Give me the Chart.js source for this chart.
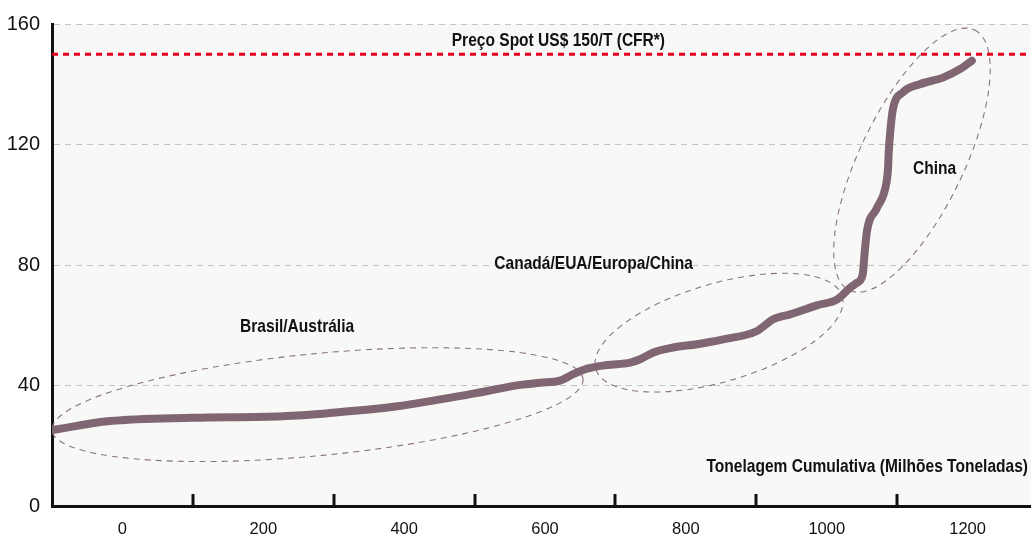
<!DOCTYPE html>
<html>
<head>
<meta charset="utf-8">
<script src="https://cdn.jsdelivr.net/npm/chart.js@4"></script>
<style>
  html, body { margin: 0; padding: 0; background: #fff; }
  #wrap { width: 1031px; height: 537px; position: relative; }
</style>
</head>
<body>
<div id="wrap"><canvas id="canvas"></canvas></div>
<script>
// cost curve: cumulative tonnage (Mt) against cash cost (US$/t)
let tonnage = [-100, -18, 100, 228, 295, 390, 498, 565, 593, 621, 640, 660, 688, 721, 735, 753,
               782, 816, 853, 901, 924, 948, 986, 1015, 1033, 1043, 1051, 1054, 1057, 1071,
               1083, 1087, 1088, 1091, 1094, 1108, 1132, 1165, 1189, 1206];
let cost = [25.2, 28.2, 29.3, 29.8, 30.9, 33.1, 37.3, 40.2, 40.9, 41.6, 43.8, 45.6, 46.8, 47.6, 48.7, 50.9,
            52.6, 53.7, 55.3, 58.1, 62.0, 63.6, 66.6, 68.6, 72.4, 74.1, 76.8, 84.5, 91.1, 98.8,
            105.4, 112.0, 117.5, 126.3, 131.8, 137.3, 140.0, 142.2, 145.0, 147.8];

let spotPrice = 150;
let spotLabel = 'Preço Spot US$ 150/T (CFR*)';
let xTitle = 'Tonelagem Cumulativa (Milhões Toneladas)';

let xLabels = [0, 200, 400, 600, 800, 1000, 1200];
let xMarks = [100, 300, 500, 700, 900, 1100];
let yLabels = [0, 40, 80, 120, 160];

let regions = ['Brasil/Austrália', 'Canadá/EUA/Europa/China', 'China'];

const FONT = "'Liberation Sans', Arial, sans-serif";
const SQUEEZE = 0.84; // condensed look for the bold captions

// ellipse ends in data units, half width in px; label anchor in data units
const regionShapes = [
  { from: [-100, 25.1], to: [654, 42.2], half: 51, label: [248, 59.4] },
  { from: [672, 45.5], to: [1022, 69.6], half: 49, label: [669, 80.5] },
  { from: [1032, 71.6], to: [1210, 158], half: 52, label: [1153, 111.9] }
];

function caption(ctx, text, px, py, align) {
  ctx.save();
  ctx.translate(px, py);
  ctx.scale(SQUEEZE, 1);
  ctx.textAlign = align;
  ctx.fillText(text, 0, 0);
  ctx.restore();
}

const decor = {
  id: 'decor',
  beforeDraw(chart) {
    const { ctx, chartArea: a } = chart;
    ctx.save();
    ctx.fillStyle = '#f8f8f6';
    ctx.fillRect(a.left, a.top, a.right - a.left, a.bottom - a.top);
    ctx.restore();
  },
  beforeDatasetsDraw(chart) {
    const { ctx, chartArea: a, scales: { x, y } } = chart;
    ctx.save();
    ctx.beginPath();
    ctx.rect(a.left, a.top, a.right - a.left, a.bottom - a.top);
    ctx.clip();
    ctx.strokeStyle = '#8a7380';
    ctx.lineWidth = 1.1;
    ctx.setLineDash([6, 5]);
    regionShapes.forEach(r => {
      const x1 = x.getPixelForValue(r.from[0]), y1 = y.getPixelForValue(r.from[1]);
      const x2 = x.getPixelForValue(r.to[0]), y2 = y.getPixelForValue(r.to[1]);
      const len = Math.hypot(x2 - x1, y2 - y1) / 2;
      ctx.beginPath();
      ctx.ellipse((x1 + x2) / 2, (y1 + y2) / 2, len, r.half, Math.atan2(y2 - y1, x2 - x1), 0, Math.PI * 2);
      ctx.stroke();
    });
    ctx.restore();
  },
  afterDraw(chart) {
    const { ctx, chartArea: a, scales: { x, y } } = chart;
    ctx.save();
    // short tick marks pointing up from the x axis
    ctx.strokeStyle = '#111';
    ctx.lineWidth = 3;
    xMarks.forEach(v => {
      const px = Math.round(x.getPixelForValue(v));
      ctx.beginPath();
      ctx.moveTo(px, a.bottom);
      ctx.lineTo(px, a.bottom - 12);
      ctx.stroke();
    });

    ctx.fillStyle = '#111';
    ctx.font = 'bold 18.5px ' + FONT;
    ctx.textBaseline = 'middle';
    caption(ctx, spotLabel, x.getPixelForValue(619), y.getPixelForValue(154.4), 'center');
    regionShapes.forEach((r, i) => {
      caption(ctx, regions[i], x.getPixelForValue(r.label[0]), y.getPixelForValue(r.label[1]), 'center');
    });
    caption(ctx, xTitle, x.getPixelForValue(1285.7), y.getPixelForValue(13), 'right');
    ctx.restore();
  }
};

let options = {
  type: 'line',
  data: {
    datasets: [{
      label: 'Custo',
      data: tonnage.map((t, i) => ({ x: t, y: cost[i] })),
      borderColor: '#7f6672',
      borderWidth: 8,
      borderCapStyle: 'round',
      borderJoinStyle: 'round',
      cubicInterpolationMode: 'monotone',
      pointRadius: 0,
      order: 1
    }, {
      label: spotLabel,
      data: [{ x: -100, y: spotPrice }, { x: 1290, y: spotPrice }],
      borderColor: '#e3001b',
      borderWidth: 3,
      borderDash: [6, 5],
      pointRadius: 0,
      order: 2
    }]
  },
  options: {
    responsive: true,
    maintainAspectRatio: false,
    animation: false,
    layout: { padding: { top: 21, right: 0, bottom: 0, left: 0 } },
    plugins: {
      legend: { display: false },
      tooltip: { enabled: false }
    },
    scales: {
      x: {
        type: 'linear',
        min: -100,
        max: 1290,
        afterBuildTicks: s => { s.ticks = xLabels.map(v => ({ value: v })); },
        afterFit: s => { s.height = 31; },
        grid: { display: false, drawTicks: false },
        border: { display: true, color: '#111', width: 3 },
        ticks: {
          padding: 14,
          color: '#111',
          font: { family: FONT, size: 16.5 },
          maxRotation: 0,
          autoSkip: false,
          callback: v => String(v)
        }
      },
      y: {
        min: 0,
        max: 160,
        afterBuildTicks: s => { s.ticks = yLabels.map(v => ({ value: v })); },
        afterFit: s => { s.width = 52; },
        grid: {
          drawTicks: false,
          color: c => c.tick && c.tick.value === 0 ? 'rgba(0,0,0,0)' : '#c4c4c4',
          lineWidth: 1
        },
        border: { display: true, color: '#111', width: 3, dash: [6, 5] },
        ticks: {
          padding: 12,
          color: '#111',
          font: { family: FONT, size: 20 },
          callback: v => String(v)
        }
      }
    }
  },
  plugins: [decor]
};

let chart = new Chart(document.getElementById('canvas'), options);
</script>
</body>
</html>
